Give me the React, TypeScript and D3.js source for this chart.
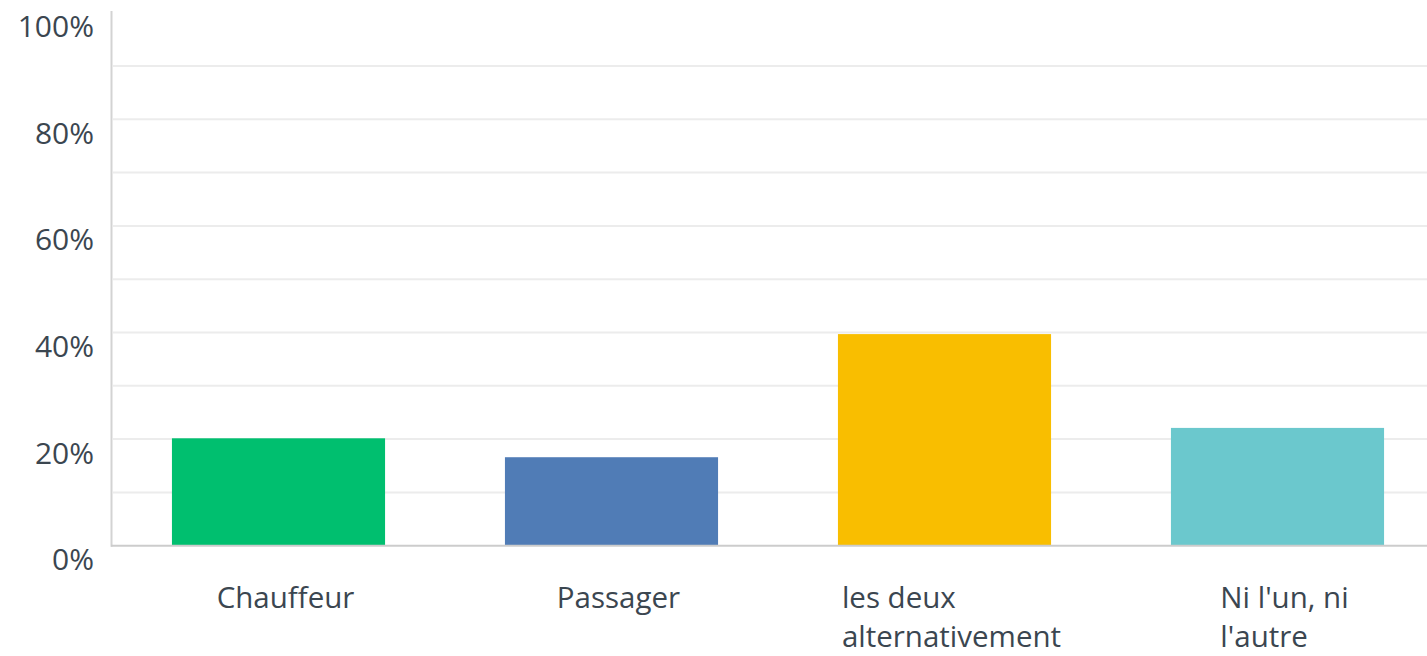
import React from "react";
import * as d3 from "d3";

const categories = ["Chauffeur", "Passager", "les deux alternativement", "Ni l'un, ni l'autre"];
const labelLines = [["Chauffeur"], ["Passager"], ["les deux", "alternativement"], ["Ni l'un, ni", "l'autre"]];
const values = [20.15, 16.6, 39.7, 22.1];
const colors = ["#00BF6F", "#507CB6", "#F9BE00", "#6BC8CD"];
const yTicks = [0, 20, 40, 60, 80, 100];
const gridTicks = [10, 20, 30, 40, 50, 60, 70, 80, 90];

const W = 1427;
const H = 656;
const FONT = "'Open Sans', sans-serif";
const FS = 30;
const CFS = 29.5;
const TEXT = "#3b4650";

function measure(text: string): number {
  const c = document.createElement("canvas").getContext("2d");
  if (!c) return text.length * CFS * 0.5;
  c.font = `${CFS}px 'Open Sans'`;
  return c.measureText(text).width;
}

export default function App() {
  const x = d3.scaleBand<string>().domain(categories).range([112, 1444]).paddingInner(0.36).paddingOuter(0.18);
  const y = d3.scaleLinear().domain([0, 100]).range([545.7, 12.7]);
  const base = y(0);

  return (
    <svg width={W} height={H} style={{ position: "fixed", left: 0, top: 0, background: "#fff" }} fontFamily={FONT}>
      {gridTicks.map((t) => (
        <line key={t} x1={113} x2={W} y1={y(t)} y2={y(t)} stroke="#ececec" strokeWidth={2} />
      ))}
      {categories.map((c, i) => (
        <rect key={c} x={x(c)} y={y(values[i])} width={x.bandwidth()} height={base - y(values[i])} fill={colors[i]} />
      ))}
      <line x1={111.5} x2={111.5} y1={11} y2={base + 1} stroke="#d3d3d3" strokeWidth={2} />
      <line x1={111} x2={W} y1={base} y2={base} stroke="#cccccc" strokeWidth={2} />
      {yTicks.map((t) => (
        <text key={t} x={94} y={y(t) + 24.5} textAnchor="end" fontSize={FS} fill={TEXT}>
          {t}%
        </text>
      ))}
      {categories.map((c, i) => {
        const lines = labelLines[i];
        const bw = Math.max(...lines.map(measure));
        const cx = (x(c) as number) + x.bandwidth() / 2 + 7;
        return (
          <text key={c} x={cx - bw / 2} y={608} fontSize={CFS} fill={TEXT}>
            {lines.map((l, j) => (
              <tspan key={j} x={cx - bw / 2} dy={j === 0 ? 0 : 39}>
                {l}
              </tspan>
            ))}
          </text>
        );
      })}
    </svg>
  );
}
